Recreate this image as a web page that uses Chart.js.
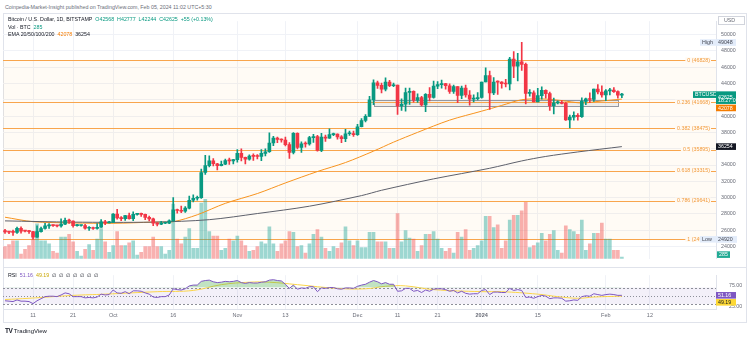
<!DOCTYPE html>
<html>
<head>
<meta charset="utf-8">
<script src="https://cdn.jsdelivr.net/npm/chart.js@4.4.1/dist/chart.umd.min.js"></script>
<style>
  body { margin: 0; width: 750px; height: 339px; background: #fff; position: relative; overflow: hidden;
         font-family: "Liberation Sans", Arial, sans-serif; }
  #frame { position: absolute; left: 3px; top: 13px; width: 742px; height: 308px; border: 1px solid #e0e3eb; }
  #head { position: absolute; left: 5px; top: 4px; font-size: 5.3px; color: #6a6d78; white-space: nowrap; }
  #mainBox { position: absolute; left: 3px; top: 13px; }
  #rsiBox { position: absolute; left: 3px; top: 267px; }
  #sep { position: absolute; left: 3px; top: 267px; width: 744px; height: 1px; background: #e0e3eb; }
  .leg { position: absolute; left: 8px; font-size: 5.3px; color: #131722; white-space: nowrap; }
  .g { color: #089981; }
  .o { color: #f57c00; }
  .p { color: #7e57c2; }
  .yl { color: #c9a600; }
  #logo { position: absolute; left: 5px; top: 327px; font-size: 6px; color: #131722; white-space: nowrap; }
  #logo b { font-size: 6.5px; letter-spacing: -0.5px; }
</style>
</head>
<body>
<div id="head">Coinpedia-Market-Insight published on TradingView.com, Feb 05, 2024 11:02 UTC+5:30</div>
<div id="frame"></div>
<div id="mainBox"><canvas id="mainChart" width="744" height="254"></canvas></div>
<div id="sep"></div>
<div id="rsiBox"><canvas id="rsiChart" width="744" height="55"></canvas></div>

<div class="leg" style="top:16px">Bitcoin / U.S. Dollar, 1D, BITSTAMP&nbsp; <span class="g">O42568&nbsp; H42777&nbsp; L42244&nbsp; C42625&nbsp; +55 (+0.13%)</span></div>
<div class="leg" style="top:23.5px">Vol · BTC&nbsp; <span class="g">285</span></div>
<div class="leg" style="top:31px">EMA 20/50/100/200&nbsp; <span class="o">42078</span>&nbsp; 36254</div>
<div class="leg" style="top:272px">RSI&nbsp; <span class="p">51.16</span>&nbsp; <span class="yl">49.19</span>&nbsp; ∅&nbsp; ∅&nbsp; ∅&nbsp; ∅&nbsp; ∅&nbsp; ∅&nbsp; ∅</div>
<div id="logo"><b>TV</b> TradingView</div>

<script>
// daily candles, 2023-09-04 .. 2024-02-05 (BITSTAMP BTCUSD)
const opens = [
  25970,25800,25780,25750,26240,25900,25890,25830,25160,25840,
  26220,26530,26600,26570,26530,26760,27210,27130,26570,26580,
  26580,26250,26300,26220,26370,27020,26910,26970,27990,27500,
  27430,27790,27410,27950,27970,27940,27590,27390,26870,26760,
  26860,26860,27160,28520,28420,28330,28720,29680,29920,30000,
  33080,33920,34500,34150,33910,34090,34530,34500,34660,35430,
  34940,34730,35080,35050,35040,35420,35630,36700,37310,37140,
  37070,36490,35550,37880,36160,36600,36570,37360,37470,35800,
  37420,37290,37720,37790,37450,37240,37830,37860,37710,38690,
  39460,39970,41980,44080,43770,43290,44170,43720,43790,41240,
  41450,42890,43020,41940,42260,41370,42660,42270,43660,43860,
  43990,43720,43010,43600,42520,43440,42580,42070,42140,42280,
  44180,44950,42850,44170,44160,43970,43930,46970,46120,46660,
  46340,42780,42850,41730,42500,43140,42740,41280,41620,41670,
  41560,39530,39870,40080,39930,41800,42120,42030,43300,42950,
  42580,43080,43190,42990,42568
];
const highs = [
  26100,25880,26020,26400,26420,25940,26000,25880,26550,26400,
  26850,26830,26670,26620,27400,27480,27380,27160,26720,26630,
  26740,26440,26390,26820,27300,27230,27090,28050,28580,27670,
  27830,28120,28270,28010,28110,27990,27740,27480,26950,27100,
  26960,27290,30000,28610,28970,28900,30200,30340,30200,33500,
  35200,35120,34800,34220,34470,34730,34840,34710,35900,35970,
  34970,35260,35380,35280,35890,35980,37950,37520,37410,37220,
  37430,36750,37980,37950,36850,36830,37520,37750,37650,37880,
  37660,38430,37900,37820,37600,38380,38170,38150,38980,39700,
  40190,42410,44450,44300,44040,44700,44370,44040,43800,42100,
  43430,43420,43090,42720,42430,42750,43480,44280,44240,44400,
  44020,43950,43800,43600,43680,43800,43120,42600,42880,44180,
  45900,45500,44730,44330,44220,44490,47200,47900,47700,49048,
  46500,43250,43080,43400,43570,43200,42930,42200,41860,41890,
  41690,40130,40520,40300,42220,42200,42840,43310,43860,43720,
  43250,43400,43500,43100,42777
];
const lows = [
  25600,25570,25370,25620,25650,25800,25600,24920,25130,25760,
  26130,26230,26480,26410,26390,26680,26840,26370,26490,26510,
  26130,25990,26100,26120,26340,26680,26890,26940,27350,27170,
  27220,27370,27180,27860,27710,27290,27140,26560,26540,26700,
  26810,26810,27130,28100,28150,28180,28620,29490,29690,29890,
  32860,33760,33900,33400,33880,34050,34080,34130,34360,34510,
  34120,34590,34550,34760,34540,35120,35530,36360,36750,36790,
  36340,34800,35360,35970,35550,36200,36420,36770,35700,35640,
  36900,37270,37600,37170,36730,36870,37630,37500,37630,38660,
  39280,39970,41400,43380,42830,43080,43590,43590,40200,40680,
  40600,41440,41690,41680,41250,40530,41850,42200,43350,43410,
  43290,42770,42770,41640,42120,42320,41320,41720,41990,42200,
  44170,40800,42630,42640,43420,43580,43200,44700,44300,45600,
  41500,42450,41720,41720,42070,42200,40680,40270,41480,41500,
  39460,38555,39500,39490,39820,41400,41640,41800,42700,42300,
  41900,42600,42900,42200,42244
];
const closes = [
  25800,25780,25750,26240,25900,25890,25830,25160,25840,26220,
  26530,26600,26570,26530,26760,27210,27130,26570,26580,26580,
  26250,26300,26220,26370,27020,26910,26970,27990,27500,27430,
  27790,27410,27950,27970,27940,27590,27390,26870,26760,26860,
  26860,27160,28520,28420,28330,28720,29680,29920,30000,33080,
  33920,34500,34150,33910,34090,34530,34500,34660,35430,34940,
  34730,35080,35050,35040,35420,35630,36700,37310,37140,37070,
  36490,35550,37880,36160,36600,36570,37360,37470,35800,37420,
  37290,37720,37790,37450,37240,37830,37860,37710,38690,39460,
  39970,41980,44080,43770,43290,44170,43720,43790,41240,41450,
  42890,43020,41940,42260,41370,42660,42270,43660,43860,43990,
  43720,43010,43600,42520,43440,42580,42070,42140,42280,44180,
  44950,42850,44170,44160,43970,43930,46970,46120,46660,46340,
  42780,42850,41730,42500,43140,42740,41280,41620,41670,41560,
  39530,39870,40080,39930,41800,42120,42030,43300,42950,42580,
  43080,43190,42990,42570,42625
];
const volumes = [
  1950,2250,2850,2850,750,1500,2100,3150,5550,2850,
  2850,2400,1200,900,3450,3450,3900,2700,1200,450,
  1500,2250,1350,3150,4800,2700,1050,2100,4350,2100,
  2100,2550,2850,600,1050,1950,1950,3450,1950,1950,
  750,1350,8700,3150,2400,3450,4800,1650,1650,8850,
  9450,4350,3600,3600,1350,1650,3150,2850,3600,2850,
  2100,1200,1350,1950,2700,2400,5100,2400,1200,2400,
  2850,4350,4200,1950,2100,900,2400,3900,4650,3450,
  1650,1200,1950,1650,2550,5100,2850,2100,2850,1800,
  1800,4200,4200,2700,2700,2700,1650,1650,7200,2700,
  4500,3300,3150,1200,2100,3900,3900,4350,3150,1650,
  1200,1650,900,4200,3450,4650,1350,1650,2100,2850,
  6750,6750,4950,5400,1650,2850,6150,6900,6900,7650,
  9000,1800,2100,2550,4050,2850,3900,4500,1350,900,
  5250,4650,4350,3900,6150,1350,2400,4050,4050,5700,
  3150,3150,1350,1350,285
];

// EMA 50 (orange) and EMA 200 (dark) read at a few dates
const ema50Days = ['2023-09-04','2023-09-11','2023-09-21','2023-10-01','2023-10-11','2023-10-16','2023-10-22',
  '2023-10-29','2023-11-06','2023-11-13','2023-11-21','2023-11-28','2023-12-05','2023-12-10','2023-12-16',
  '2023-12-24','2024-01-01','2024-01-06','2024-01-11','2024-01-16','2024-01-21','2024-01-26','2024-01-31','2024-02-05'];
const ema50Vals = [27600,27050,26900,26850,27000,27050,27900,29300,30500,31800,33200,34300,35700,36800,38000,
  39500,40600,41300,42000,42100,41900,41600,41850,42078];
const ema200Days = ['2023-09-04','2023-09-21','2023-10-11','2023-10-25','2023-11-06','2023-11-19','2023-12-02',
  '2023-12-07','2023-12-20','2024-01-03','2024-01-11','2024-01-17','2024-01-25','2024-02-05'];
const ema200Vals = [27150,27000,27000,27300,28050,28950,30250,30900,32300,33600,34500,35050,35600,36254];

// RSI (14) daily and its moving average
const rsiVals = [
  38,37,36,40,37,37,36,31,38,43,48,
  49,49,48,52,57,55,48,48,48,45,
  46,45,47,54,52,53,64,57,56,60,
  55,62,62,61,57,54,47,46,48,48,52,
  67,65,64,67,74,76,76,85,87,
  88,84,82,83,85,84,85,87,
  82,80,82,81,81,83,84,88,
  89,87,86,78,68,76,66,69,68,
  72,72,60,69,68,70,70,67,66,69,69,68,
  73,76,78,83,87,84,79,82,78,78,
  61,62,68,68,61,63,58,64,61,66,67,
  67,65,61,63,57,61,56,54,55,55,
  63,65,53,59,59,58,58,68,63,65,63,46,
  47,44,48,51,49,43,45,45,44,37,
  38,40,39,48,50,49,55,53,51,53,54,53,51,51.16
];
const rsiMaDays = ['2023-09-04','2023-09-10','2023-09-21','2023-09-29','2023-10-12','2023-10-21','2023-10-28',
  '2023-11-04','2023-11-09','2023-11-16','2023-11-26','2023-12-03','2023-12-08','2023-12-13','2023-12-20',
  '2024-01-01','2024-01-06','2024-01-15','2024-01-20','2024-01-25','2024-01-29','2024-02-05'];
const rsiMaVals = [41,44,51,54,60,63,77,83,83,77,68,67,73,74,65,60,60,54,48,44,47,49.19];

// fibonacci retracement, support zone, labels
const fibLevels = ['0','0.236','0.382','0.5','0.618','0.786','1'];
const fibPrices = [46828,41668,38475,35895,33315,29641,24920];
const zoneStart = '2023-12-05', zoneEnd = '2024-02-04', zoneTop = 41950, zoneBottom = 41250;
const highVal = 49048, lowVal = 24920, closeTimer = '18:27:05';
const priceTicks = [24000,26000,28000,30000,32000,34000,36000,38000,40000,42000,44000,46000,48000,50000];
const rsiTicks = [25, 75];
const tickDates = ['2023-09-11','2023-09-21','2023-10-01','2023-10-16','2023-11-01','2023-11-13','2023-12-01',
  '2023-12-11','2023-12-21','2024-01-01','2024-01-15','2024-02-01','2024-02-12'];
const tickTexts = ['11','21','Oct','16','Nov','13','Dec','11','21','2024','15','Feb','12'];

// categories: one per day, with blank days to the right
const labels = [];
for (let i = 0; i < 178; i++) {
  labels.push(new Date(Date.UTC(2023, 8, 4 + i)).toISOString().slice(0, 10));
}

const UP = '#089981', DOWN = '#f23645';
const FONT = '"Liberation Sans", Arial, sans-serif';
const isUp = opens.map((o, i) => closes[i] >= o);

const pts = (days, vals) => days.map((d, i) => ({ x: d, y: vals[i] }));

function timeTicks(s) {
  s.ticks = tickDates.map(d => ({ value: labels.indexOf(d) }));
}
function timeLabel(v) {
  return tickTexts[tickDates.indexOf(labels[v])];
}

function tag(ctx, x, y, w, h, bg, text, fg, bold) {
  ctx.fillStyle = bg;
  ctx.fillRect(x, y, w, h);
  if (text) {
    ctx.fillStyle = fg;
    ctx.font = (bold ? 'bold ' : '') + '5.3px ' + FONT;
    ctx.textAlign = 'left';
    ctx.textBaseline = 'middle';
    ctx.fillText(text, x + 2, y + h / 2 + 0.3);
  }
}

const mainOverlay = {
  id: 'mainOverlay',
  beforeDatasetsDraw(chart) {
    const { ctx, chartArea: a, scales: { x, y } } = chart;
    ctx.save();
    const t = y.getPixelForValue(fibPrices[0]);
    const b = y.getPixelForValue(fibPrices[fibPrices.length - 1]);
    ctx.fillStyle = 'rgba(255,152,0,0.04)';
    ctx.fillRect(a.left, t, a.right - a.left, b - t);
    // support zone
    const zx1 = x.getPixelForValue(labels.indexOf(zoneStart));
    const zx2 = x.getPixelForValue(labels.indexOf(zoneEnd));
    const zy1 = y.getPixelForValue(zoneTop), zy2 = y.getPixelForValue(zoneBottom);
    ctx.fillStyle = 'rgba(120,123,134,0.12)';
    ctx.fillRect(zx1, zy1, zx2 - zx1, zy2 - zy1);
    ctx.strokeStyle = '#9598a1';
    ctx.lineWidth = 1;
    ctx.strokeRect(Math.round(zx1) + 0.5, Math.round(zy1) + 0.5, Math.round(zx2 - zx1), Math.round(zy2 - zy1));
    // fib lines
    ctx.strokeStyle = '#f8a54c';
    fibPrices.forEach(p => {
      const py = Math.round(y.getPixelForValue(p)) + 0.5;
      ctx.beginPath();
      ctx.moveTo(a.left, py);
      ctx.lineTo(a.right, py);
      ctx.stroke();
    });
    ctx.restore();
  },
  afterDraw(chart) {
    const { ctx, chartArea: a, scales: { y } } = chart;
    ctx.save();
    // fib labels
    ctx.font = '5.3px ' + FONT;
    ctx.textBaseline = 'middle';
    ctx.textAlign = 'right';
    fibPrices.forEach((p, i) => {
      const py = y.getPixelForValue(p);
      const txt = fibLevels[i] + ' (' + p + ')';
      const w = ctx.measureText(txt).width;
      const xr = a.right - 6;
      ctx.fillStyle = '#fffaf3';
      ctx.fillRect(xr - w - 2, py - 3, w + 3, 6);
      ctx.fillStyle = '#f29a3c';
      ctx.fillText(txt, xr, py + 0.3);
    });
    const L = a.right;
    // USD
    ctx.fillStyle = '#fff';
    ctx.fillRect(L + 2, 3, 27, 9);
    ctx.strokeStyle = '#d1d4dc';
    ctx.strokeRect(L + 2.5, 3.5, 26, 8);
    ctx.fillStyle = '#6a6d78';
    ctx.textAlign = 'left';
    ctx.fillText('USD', L + 8, 7.8);
    // High / Low
    const yh = y.getPixelForValue(highVal);
    tag(ctx, L - 16, yh - 3, 36, 6.5, '#e3ecfa', 'High', '#434651');
    tag(ctx, L, yh - 3, 20, 6.5, '#e3ecfa', String(highVal), '#434651');
    const yl = y.getPixelForValue(lowVal);
    tag(ctx, L - 16, yl - 3, 37, 6.5, '#e3ecfa', 'Low', '#434651');
    tag(ctx, L, yl - 3, 21, 6.5, '#e3ecfa', String(lowVal), '#434651');
    // last price
    const last = closes.length - 1;
    const yp = y.getPixelForValue(closes[last]);
    tag(ctx, L - 23, yp - 3.3, 23, 6.6, UP, 'BTCUSD', '#fff');
    tag(ctx, L, yp - 3.3, 20, 12.6, UP, String(closes[last]), '#fff');
    ctx.fillStyle = '#fff';
    ctx.fillText(closeTimer, L + 2, yp + 6.2);
    // EMA tags
    let ye = Math.max(y.getPixelForValue(ema50Vals[ema50Vals.length - 1]) - 3.3, yp + 10);
    tag(ctx, L, ye, 20, 6.6, '#f57c00', String(ema50Vals[ema50Vals.length - 1]), '#fff');
    const y2 = y.getPixelForValue(ema200Vals[ema200Vals.length - 1]);
    tag(ctx, L, y2 - 3.3, 20, 6.6, '#131722', String(ema200Vals[ema200Vals.length - 1]), '#fff');
    // volume tag
    tag(ctx, L + 1, a.bottom - 7.5, 13, 6.6, '#22ab94', String(volumes[last]), '#fff');
    ctx.restore();
  }
};

new Chart(document.getElementById('mainChart'), {
  data: {
    labels: labels,
    datasets: [
      {
        type: 'bar', yAxisID: 'yv', order: 5, grouped: false, barThickness: 3,
        data: volumes,
        backgroundColor: isUp.map(u => u ? 'rgba(38,166,154,0.45)' : 'rgba(239,83,80,0.45)')
      },
      {
        type: 'line', yAxisID: 'y', order: 3, data: pts(ema200Days, ema200Vals),
        borderColor: '#5d606b', borderWidth: 1, pointRadius: 0, spanGaps: true, tension: 0.3
      },
      {
        type: 'line', yAxisID: 'y', order: 3, data: pts(ema50Days, ema50Vals),
        borderColor: '#f7931e', borderWidth: 1, pointRadius: 0, spanGaps: true, tension: 0.3
      },
      {
        type: 'bar', yAxisID: 'y', order: 2, grouped: false, barThickness: 1,
        data: lows.map((l, i) => [l, highs[i]]),
        backgroundColor: isUp.map(u => u ? UP : DOWN)
      },
      {
        type: 'bar', yAxisID: 'y', order: 1, grouped: false, barThickness: 3, minBarLength: 1,
        data: opens.map((o, i) => [o, closes[i]]),
        backgroundColor: isUp.map(u => u ? UP : DOWN)
      }
    ]
  },
  options: {
    responsive: false, animation: false, devicePixelRatio: 1,
    layout: { padding: { top: 1, bottom: 1, left: 0, right: 0 } },
    plugins: { legend: { display: false }, tooltip: { enabled: false } },
    scales: {
      x: {
        type: 'category', offset: true,
        afterBuildTicks: timeTicks,
        afterFit: s => { s.height = 0; },
        ticks: { display: false, autoSkip: false },
        grid: { color: '#f0f2f7', offset: false, drawTicks: false },
        border: { display: false }
      },
      y: {
        position: 'right', min: 22500, max: 51630,
        afterBuildTicks: s => { s.ticks = priceTicks.map(v => ({ value: v })); },
        afterFit: s => { s.width = 31; },
        ticks: { color: '#6a6d78', font: { size: 5.3, family: FONT }, padding: 5, callback: v => String(v) },
        grid: { color: '#f0f2f7', drawTicks: false },
        border: { display: true, color: '#e0e3eb' }
      },
      yv: { display: false, min: 0, max: 37800 }
    }
  },
  plugins: [mainOverlay]
});

const rsiOverlay = {
  id: 'rsiOverlay',
  beforeDatasetsDraw(chart) {
    const { ctx, chartArea: a, scales: { y } } = chart;
    ctx.save();
    const t = y.getPixelForValue(70), b = y.getPixelForValue(30);
    ctx.fillStyle = 'rgba(126,87,194,0.09)';
    ctx.fillRect(a.left, t, a.right - a.left, b - t);
    ctx.strokeStyle = '#8d8f99';
    ctx.lineWidth = 1;
    [[70, [2, 2]], [50, [1, 2]], [30, [2, 2]]].forEach(([v, dash]) => {
      const py = Math.round(y.getPixelForValue(v)) + 0.5;
      ctx.setLineDash(dash);
      ctx.beginPath();
      ctx.moveTo(a.left, py);
      ctx.lineTo(a.right, py);
      ctx.stroke();
    });
    ctx.restore();
  },
  afterDraw(chart) {
    const { ctx, chartArea: a, scales: { y } } = chart;
    ctx.save();
    const r = rsiVals[rsiVals.length - 1], m = rsiMaVals[rsiMaVals.length - 1];
    const yr = y.getPixelForValue(r) - 3.3;
    tag(ctx, a.right, yr, 20, 6.6, '#7e57c2', r.toFixed(2), '#fff');
    const ym = Math.max(y.getPixelForValue(m) - 3.3, yr + 7);
    tag(ctx, a.right, ym, 20, 6.6, '#fdd835', m.toFixed(2), '#131722');
    ctx.restore();
  }
};

new Chart(document.getElementById('rsiChart'), {
  type: 'line',
  data: {
    labels: labels,
    datasets: [
      {
        data: rsiVals, borderColor: '#7e57c2', borderWidth: 1, pointRadius: 0,
        fill: { target: { value: 70 }, above: 'rgba(76,175,80,0.35)', below: 'rgba(0,0,0,0)' }
      },
      {
        data: pts(rsiMaDays, rsiMaVals), borderColor: '#fbd54a', borderWidth: 1, pointRadius: 0,
        spanGaps: true, tension: 0.4
      }
    ]
  },
  options: {
    responsive: false, animation: false, devicePixelRatio: 1,
    layout: { padding: { top: 1, bottom: 0, left: 0, right: 0 } },
    plugins: { legend: { display: false }, tooltip: { enabled: false } },
    scales: {
      x: {
        type: 'category', offset: true,
        afterBuildTicks: timeTicks,
        afterFit: s => { s.height = 13; },
        ticks: {
          autoSkip: false, maxRotation: 0, padding: 3, color: '#6a6d78',
          font: c => ({ size: 5.5, family: FONT, weight: timeLabel(c.tick.value) === '2024' ? 'bold' : 'normal' }),
          callback: v => timeLabel(v)
        },
        grid: { color: '#f0f2f7', offset: false, drawTicks: false },
        border: { display: true, color: '#e0e3eb' }
      },
      y: {
        position: 'right', min: 18, max: 100,
        afterBuildTicks: s => { s.ticks = rsiTicks.map(v => ({ value: v })); },
        afterFit: s => { s.width = 31; },
        ticks: { color: '#6a6d78', font: { size: 5.3, family: FONT }, padding: 5, callback: v => v.toFixed(2) },
        grid: { display: false },
        border: { display: true, color: '#e0e3eb' }
      }
    }
  },
  plugins: [rsiOverlay]
});
</script>
</body>
</html>
